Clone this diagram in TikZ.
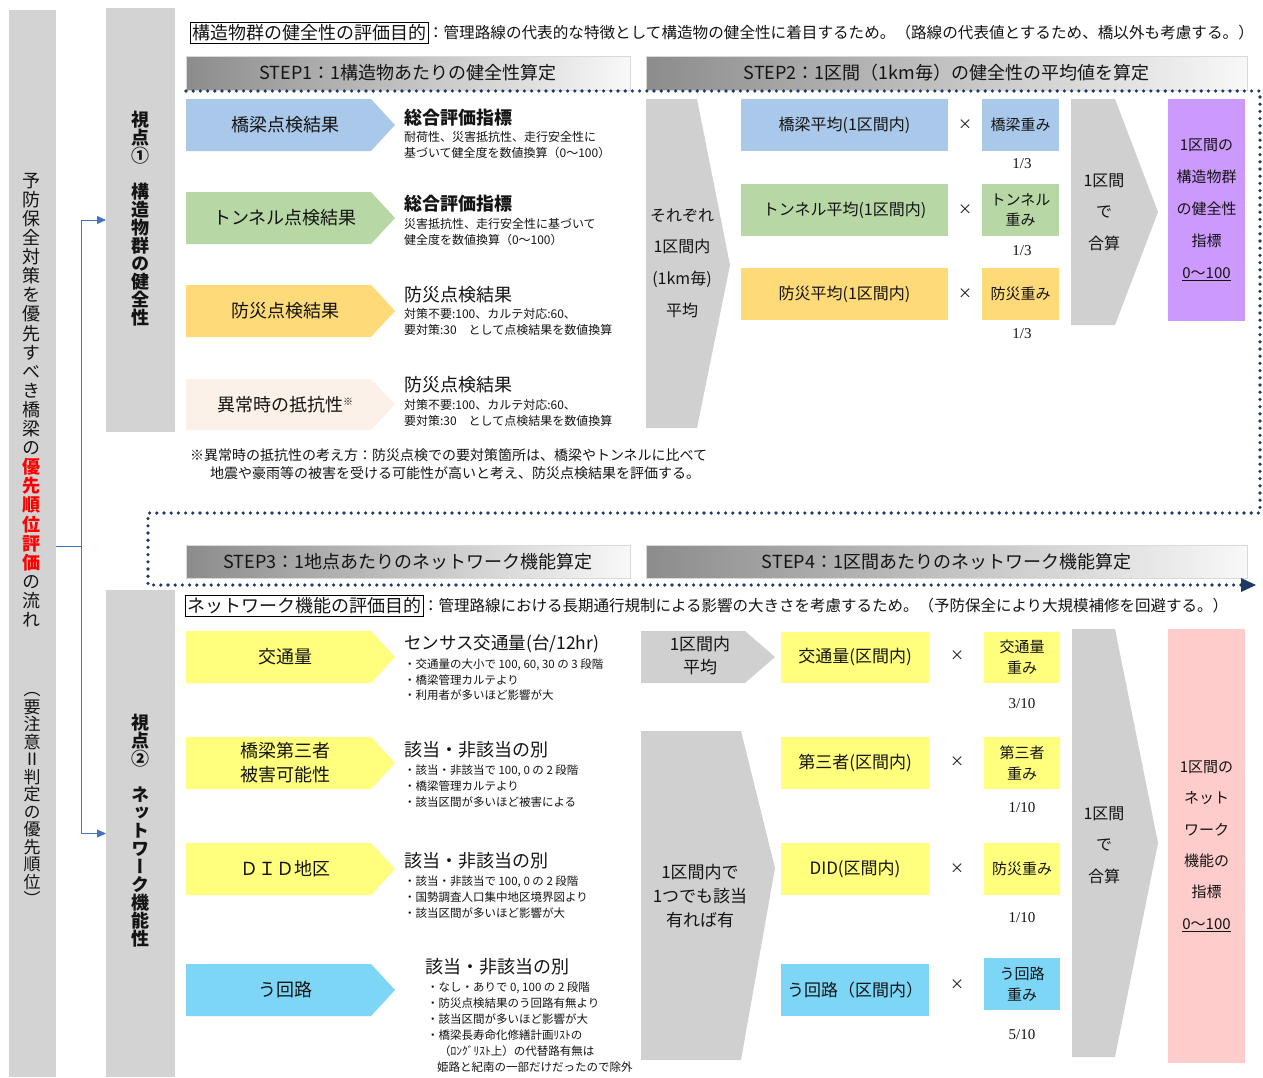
\documentclass[tikz,border=0pt]{standalone}
\usepackage{fontspec}
\setmainfont{Noto Sans CJK JP}
\newfontfamily\vfont[RawFeature=+vert]{Noto Sans CJK JP}
\newfontfamily\serifnum{Liberation Serif}
\usetikzlibrary{arrows.meta}
\definecolor{colgray}{RGB}{211,211,211}
\definecolor{chevgray}{RGB}{208,208,208}
\definecolor{cblue}{RGB}{170,201,234}
\definecolor{cgreen}{RGB}{183,215,165}
\definecolor{corange}{RGB}{255,218,120}
\definecolor{cpeach}{RGB}{251,241,232}
\definecolor{cyellow}{RGB}{255,255,125}
\definecolor{ccyan}{RGB}{125,214,246}
\definecolor{cpurple}{RGB}{204,153,255}
\definecolor{cpink}{RGB}{255,204,204}
\definecolor{navy}{RGB}{31,56,100}
\definecolor{connblue}{RGB}{68,114,196}
\definecolor{stepdark}{RGB}{140,140,140}
\definecolor{steplight}{RGB}{248,248,248}
\definecolor{txt}{RGB}{20,20,20}
\newcommand\fs[2]{\fontsize{#1}{#2}\selectfont}
\newcommand\rb[1]{{\color{red}\bfseries #1}}
\newcommand\parrow[3]{\fill[#3] (186,#1) -- (371,#1) -- (395,{(#1+#2)/2}) -- (371,#2) -- (186,#2) -- cycle;}
\begin{document}
\lineskiplimit=-100pt
\begin{tikzpicture}[x=1pt,y=-1pt,
  every node/.style={inner sep=0pt,outer sep=0pt,text=txt},
  colbox/.style={fill=colgray,anchor=north west},
  boxx/.style={anchor=north west,align=center},
  stepbar/.style={anchor=north west,minimum height=34,left color=stepdark,right color=steplight,draw=black!15,font=\fs{18}{20}},
  lab/.style={font=\fs{18}{24},align=center},
  ttl/.style={anchor=west,font=\fs{18}{20}},
  subt/.style={anchor=west,align=left,font=\fs{12}{16}},
  timesx/.style={font=\fs{14}{14}},
  fracx/.style={font=\serifnum\fs{15}{15}},
  dotline/.style={navy,line width=3.6pt,line cap=round,dash pattern=on 0pt off 7.2pt},
  conn/.style={connblue,line width=0.9pt},
]
\useasboundingbox (0,0) rectangle (1263,1077);
\fill[white] (0,0) rectangle (1263,1077);

% left column
\node[colbox,minimum width=47,minimum height=1067] (col) at (9,10) {};
\node[font=\vfont\fs{18}{19.1},align=center] (colt1) at (32,400) {予\\防\\保\\全\\対\\策\\を\\優\\先\\す\\べ\\き\\橋\\梁\\の\\\rb{優}\\\rb{先}\\\rb{順}\\\rb{位}\\\rb{評}\\\rb{価}\\の\\流\\れ};
\node[font=\vfont\fs{17}{17.5},align=center] (colt2) at (32,799) {（\\要\\注\\意\\Ⅱ\\判\\定\\の\\優\\先\\順\\位\\）};

% viewpoint columns
\node[colbox,minimum width=69,minimum height=424] (v1) at (106,8) {};
\node[font=\vfont\bfseries\fs{18}{18},align=center] (v1t) at (140,219) {視\\点\\①\\[18pt]構\\造\\物\\群\\の\\健\\全\\性};
\node[colbox,minimum width=69,minimum height=487] (v2) at (106,590) {};
\node[font=\vfont\bfseries\fs{18}{18},align=center] (v2t) at (140,831) {視\\点\\②\\[18pt]ネ\\ッ\\ト\\ワ\\ー\\ク\\機\\能\\性};

% connectors from left column
\coordinate (jn) at (81,546);
\draw[conn] (col.east |- jn) -- (jn);
\draw[conn,-{Triangle[length=9pt,width=8pt]}] (jn) |- (v1.west);
\draw[conn,-{Triangle[length=9pt,width=8pt]}] (jn) |- (v2.west);

% purpose lines
\node[draw=black,line width=0.8pt,inner sep=2pt,anchor=west,font=\fs{18}{20}] (p1) at (190,33) {構造物群の健全性の評価目的};
\node[anchor=west,font=\fs{15.6}{18}] (p1t) at (p1.east) {：管理路線の代表的な特徴として構造物の健全性に着目するため。（路線の代表値とするため、橋以外も考慮する。）};
\node[draw=black,line width=0.8pt,inner sep=2pt,anchor=west,font=\fs{18}{20}] (p2) at (185,606) {ネットワーク機能の評価目的};
\node[anchor=west,font=\fs{15.5}{18}] (p2t) at (p2.east) {：管理路線における長期通行規制による影響の大きさを考慮するため。（予防保全により大規模補修を回避する。）};

% step bars
\node[stepbar,minimum width=444] (s1) at (186,56) {STEP1：1構造物あたりの健全性算定};
\node[stepbar,minimum width=601] (s2) at (646,56) {STEP2：1区間（1km毎）の健全性の平均値を算定};
\node[stepbar,minimum width=444,minimum height=33] (s3) at (186,545) {STEP3：1地点あたりのネットワーク機能算定};
\node[stepbar,minimum width=601,minimum height=33] (s4) at (646,545) {STEP4：1区間あたりのネットワーク機能算定};

% ---------- upper part ----------
\parrow{99}{151}{cblue}
\parrow{192}{244}{cgreen}
\parrow{285}{337}{corange}
\parrow{379}{430}{cpeach}
\node[lab] (a1t) at (285,125) {橋梁点検結果};
\node[lab] (a2t) at (285,218) {トンネル点検結果};
\node[lab] (a3t) at (285,311) {防災点検結果};
\node[lab] (a4t) at (285,405) {異常時の抵抗性\raisebox{6pt}{\fs{10}{10}※}};

\node[ttl,font=\bfseries\fs{18}{20}] (d1) at (404,118) {総合評価指標};
\node[subt] (d1s) at (404,145) {耐荷性、災害抵抗性、走行安全性に\\基づいて健全度を数値換算（0〜100）};
\node[ttl,font=\bfseries\fs{18}{20}] (d2) at (404,204) {総合評価指標};
\node[subt] (d2s) at (404,232) {災害抵抗性、走行安全性に基づいて\\健全度を数値換算（0〜100）};
\node[ttl] (d3) at (404,295) {防災点検結果};
\node[subt] (d3s) at (404,322) {対策不要:100、カルテ対応:60、\\要対策:30　として点検結果を数値換算};
\node[ttl] (d4) at (404,385) {防災点検結果};
\node[subt] (d4s) at (404,413) {対策不要:100、カルテ対応:60、\\要対策:30　として点検結果を数値換算};

\node[anchor=west,font=\fs{14}{16}] (fn1) at (190,455) {※異常時の抵抗性の考え方：防災点検での要対策箇所は、橋梁やトンネルに比べて};
\node[anchor=west,font=\fs{14}{16}] (fn2) at (210,473) {地震や豪雨等の被害を受ける可能性が高いと考え、防災点検結果を評価する。};

% STEP2 region
\fill[chevgray] (646,99) -- (697,99) -- (730,265) -- (697,428) -- (646,428) -- cycle;
\node[font=\fs{16}{31.7},align=center] (avg1) at (682,263) {それぞれ\\1区間内\\(1km毎)\\平均};

\node[boxx,fill=cblue,minimum width=207,minimum height=52,font=\fs{16}{18}] (b1) at (741,99) {橋梁平均(1区間内)};
\node[boxx,fill=cgreen,minimum width=207,minimum height=52,font=\fs{16}{18}] (b2) at (741,184) {トンネル平均(1区間内)};
\node[boxx,fill=corange,minimum width=207,minimum height=52,font=\fs{16}{18}] (b3) at (741,268) {防災平均(1区間内)};
\node[timesx] (x1) at (965,125) {×};
\node[timesx] (x2) at (965,210) {×};
\node[timesx] (x3) at (965,294) {×};
\node[boxx,fill=cblue,minimum width=77,minimum height=52,font=\fs{15}{20}] (w1) at (982,99) {橋梁重み};
\node[boxx,fill=cgreen,minimum width=77,minimum height=52,font=\fs{15}{20}] (w2) at (982,184) {トンネル\\重み};
\node[boxx,fill=corange,minimum width=77,minimum height=52,font=\fs{15}{20}] (w3) at (982,268) {防災重み};
\node[fracx] (f1) at (1022,164) {1/3};
\node[fracx] (f2) at (1022,251) {1/3};
\node[fracx] (f3) at (1022,334) {1/3};

\fill[chevgray] (1071,99) -- (1115,99) -- (1158,212) -- (1115,325) -- (1071,325) -- cycle;
\node[font=\fs{16}{31.5},align=center] (sum1) at (1104,212) {1区間\\で\\合算};
\node[boxx,fill=cpurple,minimum width=77,minimum height=222,font=\fs{15}{32}] (res1) at (1168,99) {1区間の\\構造物群\\の健全性\\指標\\\underline{0〜100}};

% dotted flow line
\coordinate (q0) at (186,91);
\coordinate (q1) at (1260,91);
\coordinate (q2) at (1260,513);
\coordinate (q3) at (148,513);
\coordinate (q4) at (148,585);
\coordinate (q5) at (1243,585);
\draw[dotline] (q0) -- (q1) -- (q2) -- (q3) -- (q4) -- (q5);
\fill[navy] (1241,578) -- (1256,585) -- (1241,592) -- cycle;

% ---------- lower part ----------
\parrow{631}{683}{cyellow}
\parrow{737}{789}{cyellow}
\parrow{843}{895}{cyellow}
\parrow{964}{1016}{ccyan}
\node[lab] (n1t) at (285,657) {交通量};
\node[lab] (n2t) at (285,763) {橋梁第三者\\被害可能性};
\node[lab] (n3t) at (285,869) {ＤＩＤ地区};
\node[lab] (n4t) at (285,990) {う回路};

\node[ttl,font=\fs{17.5}{20}] (e1) at (404,644) {センサス交通量(台/12hr)};
\node[subt,font=\fs{11.5}{15.5}] (e1s) at (404,680) {・交通量の大小で 100, 60, 30 の 3 段階\\・橋梁管理カルテより\\・利用者が多いほど影響が大};
\node[ttl] (e2) at (404,750) {該当・非該当の別};
\node[subt,font=\fs{11.5}{16}] (e2s) at (404,786) {・該当・非該当で 100, 0 の 2 段階\\・橋梁管理カルテより\\・該当区間が多いほど被害による};
\node[ttl] (e3) at (404,861) {該当・非該当の別};
\node[subt,font=\fs{11.5}{16}] (e3s) at (404,897) {・該当・非該当で 100, 0 の 2 段階\\・国勢調査人口集中地区境界図より\\・該当区間が多いほど影響が大};
\node[ttl] (e4) at (425,967) {該当・非該当の別};
\node[subt,font=\fs{11.5}{16}] (e4s) at (427,1027) {・なし・ありで 0, 100 の 2 段階\\・防災点検結果のう回路有無より\\・該当区間が多いほど影響が大\\・橋梁長寿命化修繕計画ﾘｽﾄの\\\hspace*{12pt}（ﾛﾝｸﾞﾘｽﾄ上）の代替路有無は\\\hspace*{10pt}姫路と紀南の一部だけだったので除外};

\fill[chevgray] (641,631) -- (745,631) -- (775,657) -- (745,683) -- (641,683) -- cycle;
\node[font=\fs{17}{23},align=center] (avg2) at (700,656) {1区間内\\平均};
\fill[chevgray] (641,731) -- (741,731) -- (775,868) -- (741,1060) -- (641,1060) -- cycle;
\node[font=\fs{17}{24},align=center] (avg3) at (700,896) {1区間内で\\1つでも該当\\有れば有};

\node[boxx,fill=cyellow,minimum width=148,minimum height=51,font=\fs{17}{20}] (c1) at (781,632) {交通量(区間内)};
\node[boxx,fill=cyellow,minimum width=148,minimum height=52,font=\fs{17}{20}] (c2) at (781,737) {第三者(区間内)};
\node[boxx,fill=cyellow,minimum width=148,minimum height=52,font=\fs{17}{20}] (c3) at (781,843) {DID(区間内)};
\node[boxx,fill=ccyan,minimum width=148,minimum height=52,font=\fs{17}{20}] (c4) at (781,964) {う回路（区間内）};
\node[timesx] (y1) at (957,656) {×};
\node[timesx] (y2) at (957,762) {×};
\node[timesx] (y3) at (957,869) {×};
\node[timesx] (y4) at (957,985) {×};
\node[boxx,fill=cyellow,minimum width=76,minimum height=51,font=\fs{15}{21}] (u1) at (984,632) {交通量\\重み};
\node[boxx,fill=cyellow,minimum width=76,minimum height=52,font=\fs{15}{21}] (u2) at (984,737) {第三者\\重み};
\node[boxx,fill=cyellow,minimum width=76,minimum height=52,font=\fs{15}{21}] (u3) at (984,843) {防災重み};
\node[boxx,fill=ccyan,minimum width=76,minimum height=52,font=\fs{15}{21}] (u4) at (984,958) {う回路\\重み};
\node[fracx] (g1) at (1022,704) {3/10};
\node[fracx] (g2) at (1022,808) {1/10};
\node[fracx] (g3) at (1022,918) {1/10};
\node[fracx] (g4) at (1022,1035) {5/10};

\fill[chevgray] (1072,629) -- (1115,629) -- (1158,843) -- (1115,1057) -- (1072,1057) -- cycle;
\node[font=\fs{16}{31.5},align=center] (sum2) at (1104,845) {1区間\\で\\合算};
\node[boxx,fill=cpink,minimum width=77,minimum height=434,font=\fs{15}{31.4}] (res2) at (1168,629) {1区間の\\ネット\\ワーク\\機能の\\指標\\\underline{0〜100}};
\end{tikzpicture}
\end{document}
